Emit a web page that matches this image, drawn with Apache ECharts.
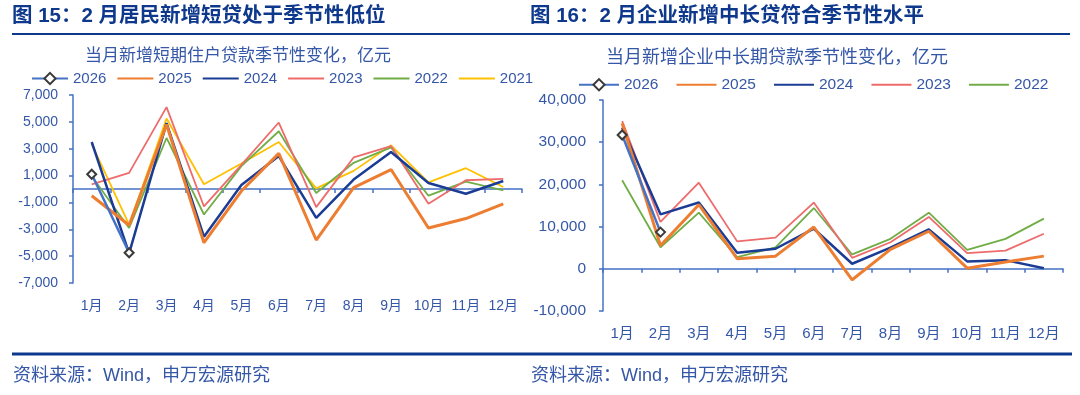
<!DOCTYPE html>
<html>
<head>
<meta charset="utf-8">
<script src="https://cdn.jsdelivr.net/npm/echarts@6/dist/echarts.min.js"></script>
<style>
html,body{margin:0;padding:0;background:#fff;}
#c{width:1080px;height:395px;}
</style>
</head>
<body>
<div id="c"></div>
<script>
// ---------- data ----------
const months = ['1月','2月','3月','4月','5月','6月','7月','8月','9月','10月','11月','12月'];
const leftYears = ['2026','2025','2024','2023','2022','2021'];
const rightYears = ['2026','2025','2024','2023','2022'];

// 当月新增短期住户贷款（亿元）
const short2026 = [1100, -4750];
const short2025 = [-500, -2700, 4800, -4000, -150, 2650, -3800, 100, 1450, -2900, -2200, -1100];
const short2024 = [3500, -4800, 4900, -3550, 300, 2450, -2150, 700, 2750, 450, -350, 600];
const short2023 = [350, 1200, 6100, -1300, 1800, 4950, -1350, 2350, 3200, -1100, 650, 750];
const short2022 = [950, -2900, 3800, -1900, 1700, 4300, -300, 1950, 3100, -500, 550, -100];
const short2021 = [3350, -2650, 5250, 350, 1900, 3500, 50, 1350, 3250, 500, 1550, 150];

// 当月新增企业中长期贷款（亿元）
const corp2026 = [31700, 8700];
const corp2025 = [34500, 5500, 15200, 2400, 3000, 9900, -2600, 4600, 8900, 150, 1600, 3000];
const corp2024 = [33500, 12900, 15700, 3800, 4750, 9500, 1200, 5000, 9350, 1750, 2050, 150];
const corp2023 = [35000, 11100, 20400, 6500, 7400, 15700, 2600, 6300, 12300, 3700, 4300, 8300];
const corp2022 = [21000, 5100, 13300, 2750, 5100, 14400, 3400, 7100, 13300, 4500, 7100, 11900];

const titleLeft = '图 15：2 月居民新增短贷处于季节性低位';
const titleRight = '图 16：2 月企业新增中长贷符合季节性水平';
const subLeft = '当月新增短期住户贷款季节性变化，亿元';
const subRight = '当月新增企业中长期贷款季节性变化，亿元';
const source = '资料来源：Wind，申万宏源研究';

// ---------- styles ----------
const FONT = '"Liberation Sans", "Noto Sans CJK SC", sans-serif';
const NAVY = '#0E388C';
const TXT = '#3557A7';
const AXIS = '#4472C4';
const styles = {
  '2026': {color: '#4472C4', width: 2.5},
  '2025': {color: '#ED7D31', width: 3},
  '2024': {color: '#1A3C94', width: 2.5},
  '2023': {color: '#EE6B6B', width: 1.8},
  '2022': {color: '#70AD47', width: 1.8},
  '2021': {color: '#FFC000', width: 1.8}
};
const leftData = {'2026': short2026, '2025': short2025, '2024': short2024, '2023': short2023, '2022': short2022, '2021': short2021};
const rightData = {'2026': corp2026, '2025': corp2025, '2024': corp2024, '2023': corp2023, '2022': corp2022};

const fmt = v => Number(v).toLocaleString('en-US');

function makeSeries(years, dataMap, xIdx, yIdx) {
  return years.map((y, i) => {
    const st = styles[y];
    const is26 = y === '2026';
    return {
      name: y, type: 'line', xAxisIndex: xIdx, yAxisIndex: yIdx,
      data: dataMap[y],
      symbol: is26 ? 'diamond' : 'none',
      symbolSize: 9,
      showSymbol: is26,
      itemStyle: is26 ? {color: '#fff', borderColor: '#3a3a3a', borderWidth: 2} : {color: st.color},
      lineStyle: {color: st.color, width: st.width},
      z: is26 ? 10 : 2 + (years.length - i),
      animation: false
    };
  });
}

// legend entries: only 2026 shows its marker; others are plain lines
const legendItems = years => years.map(y => ({
  name: y,
  itemStyle: y === '2026' ? {opacity: 1} : {opacity: 0}
}));

function xAxesFor(gridIndex, fontSize, margin) {
  return [
    { // labels at bottom
      type: 'category', gridIndex, data: months, boundaryGap: true,
      position: 'bottom',
      axisLine: {show: false, onZero: false}, axisTick: {show: false},
      axisLabel: {color: TXT, fontSize, fontFamily: FONT, margin, interval: 0}
    },
    { // axis line at zero
      type: 'category', gridIndex, data: months, boundaryGap: true,
      position: 'bottom',
      axisLine: {show: true, onZero: true, lineStyle: {color: AXIS, width: 1.5}},
      axisTick: {show: true, length: 4, inside: false, lineStyle: {color: AXIS, width: 1.5}, interval: 0},
      axisLabel: {show: false}
    }
  ];
}

const chart = echarts.init(document.getElementById('c'), null, {renderer: 'canvas'});

const option = {
  backgroundColor: '#fff',
  animation: false,
  textStyle: {fontFamily: FONT},
  grid: [
    {left: 73, top: 95, width: 449, height: 188},
    {left: 603, top: 100, width: 460, height: 211}
  ],
  legend: [
    {
      data: legendItems(leftYears), left: 31, top: 71, itemWidth: 36, itemHeight: 14, itemGap: 10,
      textStyle: {color: TXT, fontSize: 15, fontFamily: FONT}, padding: 0, selectedMode: false
    },
    {
      data: legendItems(rightYears), left: 578, top: 77, itemWidth: 40, itemHeight: 14, itemGap: 17,
      textStyle: {color: TXT, fontSize: 15.5, fontFamily: FONT}, padding: 0, selectedMode: false
    }
  ],
  xAxis: [...xAxesFor(0, 14, 16), ...xAxesFor(1, 15, 15)],
  yAxis: [
    {
      type: 'value', gridIndex: 0, min: -7000, max: 7000, interval: 2000,
      axisLine: {show: true, lineStyle: {color: AXIS, width: 1.5}},
      axisTick: {show: true, length: 4, lineStyle: {color: AXIS, width: 1.5}},
      splitLine: {show: false},
      axisLabel: {color: TXT, fontSize: 14, fontFamily: FONT, margin: 15, formatter: fmt}
    },
    {
      type: 'value', gridIndex: 1, min: -10000, max: 40000, interval: 10000,
      axisLine: {show: true, lineStyle: {color: AXIS, width: 1.5}},
      axisTick: {show: true, length: 4, lineStyle: {color: AXIS, width: 1.5}},
      splitLine: {show: false},
      axisLabel: {color: TXT, fontSize: 15.5, fontFamily: FONT, margin: 17, formatter: fmt}
    }
  ],
  series: [
    ...makeSeries(leftYears, leftData, 0, 0),
    ...makeSeries(rightYears, rightData, 2, 1)
  ],
  graphic: [
    {type: 'text', left: 12, top: 6, style: {text: titleLeft, fill: NAVY, font: 'bold 20.5px ' + FONT}},
    {type: 'text', left: 530, top: 6, style: {text: titleRight, fill: NAVY, font: 'bold 20.5px ' + FONT}},
    {type: 'line', shape: {x1: 12, y1: 34, x2: 1070, y2: 34}, style: {stroke: NAVY, lineWidth: 2}},
    {type: 'text', left: 85, top: 48, style: {text: subLeft, fill: TXT, font: '17px ' + FONT}},
    {type: 'text', left: 606, top: 49, style: {text: subRight, fill: TXT, font: '18px ' + FONT}},
    {type: 'line', shape: {x1: 12, y1: 354, x2: 1072, y2: 354}, style: {stroke: NAVY, lineWidth: 3}},
    {type: 'text', left: 13, top: 367, style: {text: source, fill: TXT, font: '18px ' + FONT}},
    {type: 'text', left: 531, top: 367, style: {text: source, fill: TXT, font: '18px ' + FONT}}
  ]
};
chart.setOption(option);
</script>
</body>
</html>
